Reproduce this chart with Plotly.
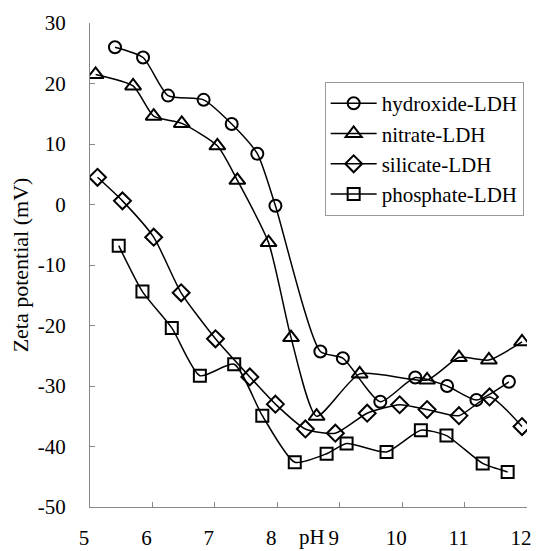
import plotly.graph_objects as go

hyd_ph = [5.40, 5.85, 6.25, 6.82, 7.27, 7.68, 7.97, 8.69, 9.05, 9.65, 10.21, 10.72, 11.19, 11.71]
hyd_zp = [26.0, 24.3, 18.0, 17.3, 13.3, 8.4, -0.2, -24.3, -25.4, -32.6, -28.6, -30.0, -32.3, -29.3]

nit_ph = [5.09, 5.69, 6.02, 6.47, 7.04, 7.36, 7.86, 8.22, 8.63, 9.32, 10.40, 10.91, 11.39, 11.92]
nit_zp = [21.5, 19.6, 14.6, 13.4, 9.7, 4.0, -6.3, -22.0, -35.0, -28.0, -29.0, -25.3, -25.7, -22.7]

sil_ph = [5.12, 5.52, 6.02, 6.46, 7.01, 7.56, 7.97, 8.45, 8.93, 9.44, 9.96, 10.40, 10.91, 11.40, 11.92]
sil_zp = [4.5, 0.6, -5.4, -14.6, -22.2, -28.5, -33.0, -37.1, -37.8, -34.5, -33.1, -33.9, -34.9, -31.8, -36.7]

pho_ph = [5.46, 5.84, 6.31, 6.76, 7.31, 7.76, 8.28, 8.79, 9.11, 9.75, 10.30, 10.71, 11.29, 11.69]
pho_zp = [-6.8, -14.4, -20.4, -28.3, -26.4, -34.9, -42.6, -41.2, -39.5, -40.9, -37.3, -38.2, -42.8, -44.2]

x_ticks = [5, 6, 7, 8, 9, 10, 11, 12]
x_ticktext = ["5", "6", "7", "8", "9", "10", "11", "12"]
y_ticks = [30, 20, 10, 0, -10, -20, -30, -40, -50]
y_ticktext = ["30", "20", "10", "0", "-10", "-20", "-30", "-40", "-50"]

FONT = "Liberation Serif, Times New Roman, serif"

series = [
    ("hydroxide-LDH", hyd_ph, hyd_zp, "circle-open", 12),
    ("nitrate-LDH", nit_ph, nit_zp, "triangle-up-open", 14),
    ("silicate-LDH", sil_ph, sil_zp, "diamond-open", 13),
    ("phosphate-LDH", pho_ph, pho_zp, "square-open", 12),
]

fig = go.Figure()
for name, xs, ys, sym, sz in series:
    fig.add_trace(go.Scatter(
        x=xs, y=ys, name=name, mode="lines+markers",
        line=dict(color="black", width=1.5, shape="spline", smoothing=0.6),
        marker=dict(symbol=sym, size=sz, color="black", line=dict(width=2, color="black")),
    ))

fig.update_layout(
    width=541, height=551, autosize=False,
    margin=dict(l=90, r=14, t=23, b=44),
    paper_bgcolor="white", plot_bgcolor="white",
    font=dict(family=FONT, size=20, color="black"),
    showlegend=True,
    legend=dict(
        x=0.537, y=0.878, xanchor="left", yanchor="top",
        bgcolor="white", bordercolor="#999999", borderwidth=1,
        font=dict(family=FONT, size=21, color="black"),
        tracegroupgap=0, itemwidth=46,
    ),
)
fig.update_xaxes(
    range=[5, 12], tickvals=x_ticks, ticktext=x_ticktext, automargin=False,
    showgrid=False, zeroline=False, showline=True, linecolor="#888888", linewidth=1,
    ticks="inside", ticklen=5, tickcolor="#888888", ticklabelstandoff=12, ticklabelshift=-6,
    tickfont=dict(family=FONT, size=21, color="black"),
)
fig.update_yaxes(
    range=[-50, 30], tickvals=y_ticks, ticktext=y_ticktext, automargin=False,
    showgrid=False, zeroline=False, showline=True, linecolor="#888888", linewidth=1,
    ticks="inside", ticklen=5, tickcolor="#888888", ticklabelstandoff=19,
    tickfont=dict(family=FONT, size=21, color="black"),
    title=dict(text="Zeta potential (mV)", font=dict(family=FONT, size=22, color="black"), standoff=3),
)
fig.add_annotation(
    text="pH", x=8.55, xref="x", y=0, yref="paper", yanchor="middle", yshift=-30,
    showarrow=False, font=dict(family=FONT, size=21, color="black"),
)

fig.write_html(
    "out.html",
    config={"displayModeBar": False, "responsive": False},
    post_script="document.body.style.margin='0';document.body.style.overflow='hidden';",
)
